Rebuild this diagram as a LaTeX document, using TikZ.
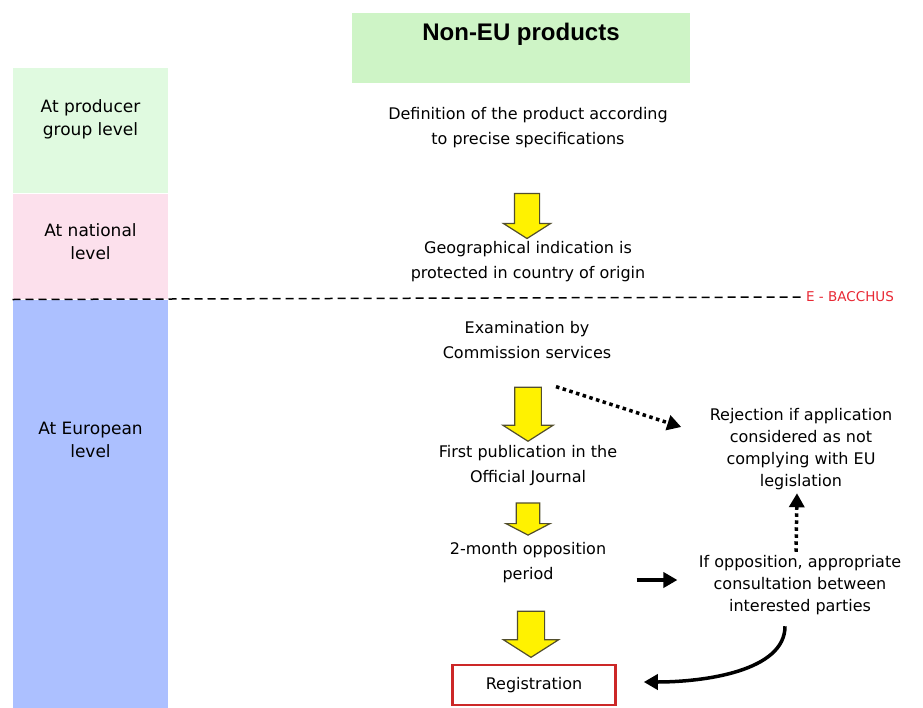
\documentclass[tikz,border=0pt]{standalone}
\usepackage{fontspec}
\setmainfont{DejaVu Sans}
\newfontfamily\hdrfont{Liberation Sans}
\usetikzlibrary{positioning,shapes.arrows,arrows.meta}
\definecolor{prodgreen}{RGB}{224,250,224}
\definecolor{hdrgreen}{RGB}{206,244,198}
\definecolor{natpink}{RGB}{252,224,236}
\definecolor{eublue}{RGB}{172,192,255}
\definecolor{regred}{RGB}{204,40,40}
\definecolor{bacred}{RGB}{232,40,52}
\tikzset{
every path/.style={line width=1pt}
, every node/.style={font=\fontsize{16}{25}\selectfont, align=center, inner sep=3pt}
, lvlbox/.style={minimum width=155pt, inner sep=0pt}
, lvltext/.style={font=\fontsize{17}{23}\selectfont}
, sidetext/.style={font=\fontsize{16}{22}\selectfont}
, yarrow/.style={single arrow, shape border rotate=270, draw=black!55!olive, fill=yellow,
    line width=1.2pt, inner sep=12pt, single arrow head extend=11pt, single arrow tip angle=115}
, regbox/.style={draw=regred, line width=2.5pt, minimum width=163pt, minimum height=40pt}
, sepline/.style={line width=1.5pt, dash pattern=on 8pt off 5pt}
, dotarrow/.style={line width=3.5pt, dash pattern=on 3.5pt off 3.5pt, -{Triangle[length=14pt,width=15pt]}}
, solidarrow/.style={line width=3.5pt, -{Triangle[length=14pt,width=15pt]}}}

\begin{document}
\begin{tikzpicture}[x=1pt, y=-1pt]
\useasboundingbox (0,0) rectangle (923,707);
% level columns on the left
\node[lvlbox, fill=prodgreen, minimum height=125pt] at (90.5,130.5) (prod) {};
\node[lvlbox, fill=natpink, minimum height=105pt, below=0pt of prod] (nat) {};
\node[lvlbox, fill=eublue, minimum height=409pt, below=0pt of nat] (eu) {};
\node[lvltext, below=29pt of prod.north] (prodlbl) {At producer\\group level};
\node[lvltext, below=27pt of nat.north] (natlbl) {At national\\level};
\node[lvltext, below=119pt of eu.north] (eulbl) {At European\\level};
% main chain
\node[fill=hdrgreen, minimum width=338pt, text height=27pt, text depth=43pt, inner sep=0pt,
  font=\hdrfont\bfseries\fontsize{24}{26}\selectfont] at (521,48) (hdr) {Non-EU products};
\node at (528,128) (def) {Definition of the product according\\to precise specifications};
\node[yarrow, minimum height=45pt, minimum width=47pt] at (527,212) (a1) {};
\node at (528,262) (geo) {Geographical indication is\\protected in country of origin};
\node[font=\fontsize{13.5}{14}\selectfont, color=bacred] at (850,297) (bac) {E - BACCHUS};
\draw[sepline] (nat.south west) -- (bac.west);
\node at (527,340) (exam) {Examination by\\Commission services};
\node[yarrow, minimum height=54pt, minimum width=50pt] at (528,410) (a2) {};
\node[yarrow, inner sep=11pt, single arrow head extend=10pt, single arrow tip angle=125,
  minimum height=32pt, minimum width=44pt] at (528,516) (a3) {};
\node at (528,466) (pub) {First publication in the\\Official Journal};
\node at (528,563) (opp) {2-month opposition\\period};
\node[yarrow, inner sep=13pt, single arrow head extend=14pt, minimum height=46pt, minimum width=55pt] at (531,630) (a4) {};
\node[regbox] at (534,685) (reg) {Registration};
% side branch
\node[sidetext] at (801,449) (rej) {Rejection if application\\considered as not\\complying with EU\\legislation};
\node[sidetext] at (800,585) (cons) {If opposition, appropriate\\consultation between\\interested parties};
\draw[dotarrow] ([xshift=28pt]a2.tail) -- ([xshift=-25pt,yshift=22pt]rej.west);
\draw[dotarrow] ([xshift=-4pt]cons.north) -- ([xshift=-4pt]rej.south);
\draw[solidarrow] ([xshift=27pt,yshift=-17pt]opp.east) -- ([xshift=-18pt,yshift=5pt]cons.west);
\draw[solidarrow] ([xshift=-15pt,yshift=-8pt]cons.south) .. controls +(0,45) and +(60,0) .. ([xshift=27pt,yshift=3pt]reg.east);
\end{tikzpicture}
\end{document}
